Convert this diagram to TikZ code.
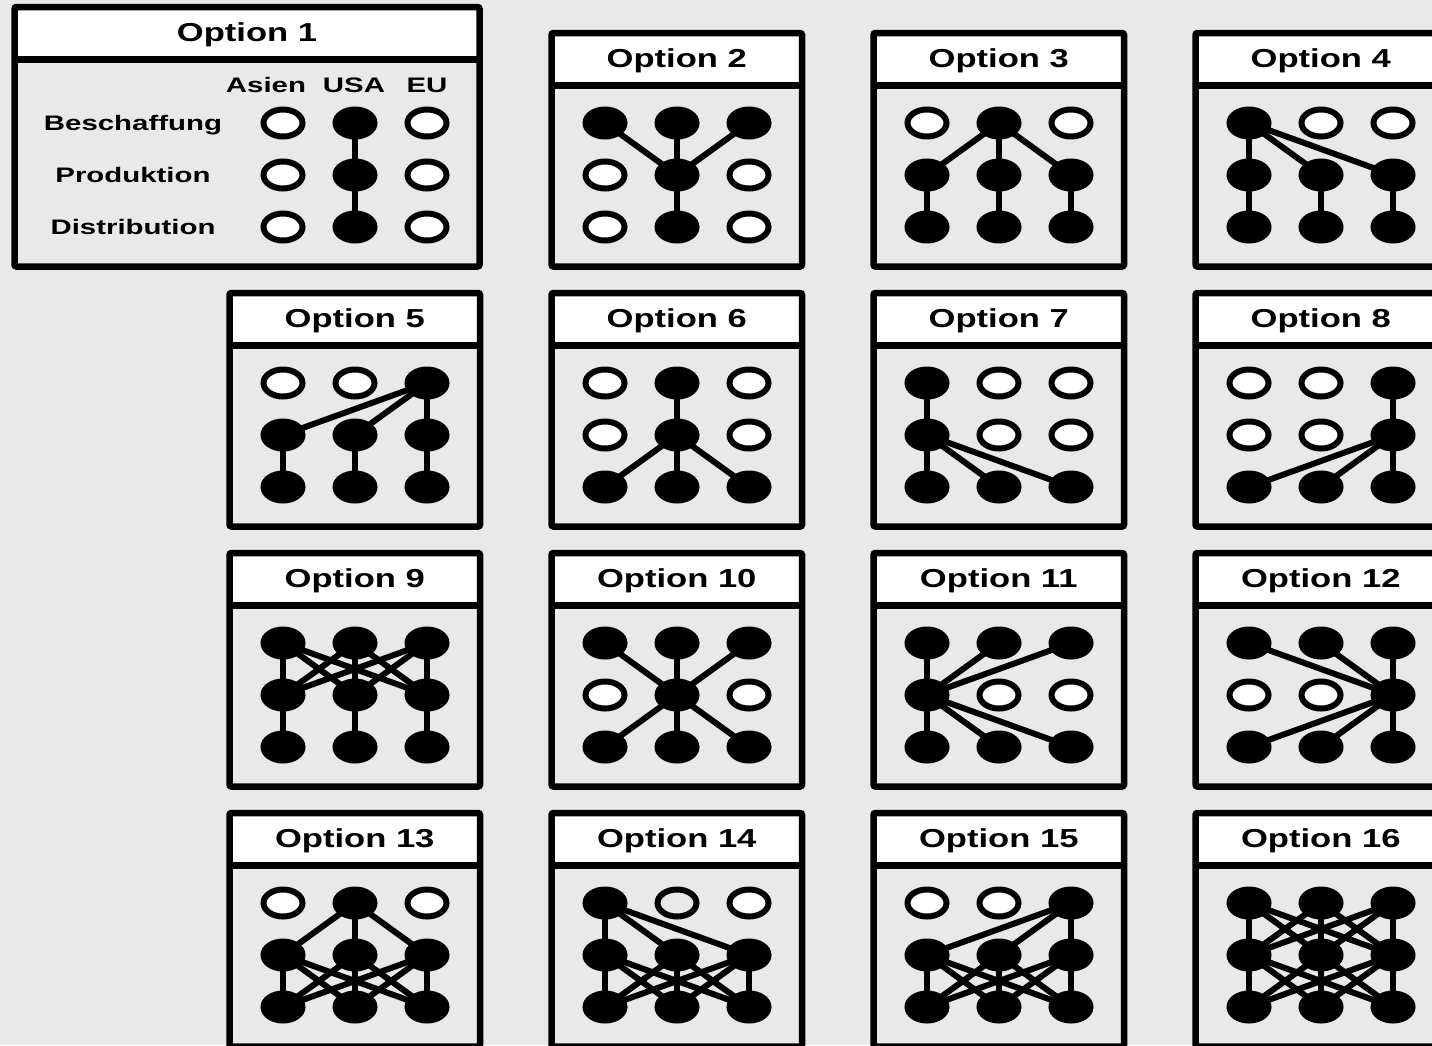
\documentclass[tikz,border=0pt]{standalone}
\usepackage{fontspec}
\setmainfont{Liberation Sans}
\usetikzlibrary{shapes.geometric,backgrounds}

\definecolor{pagegray}{RGB}{233,233,233}
\colorlet{used}{black}
\colorlet{free}{white}
\colorlet{blank}{pagegray}

\newcommand{\wide}[2][1.4]{\scalebox{#1}[1]{#2}}

% frame of one option: title name, left, top, title
\newcommand{\optframe}[4]{%
  \fill[white] (#2,#3) rectangle ++(250.5,52.5);
  \draw[frameline] (#2,#3+52.5) -- ++(250.5,0);
  \draw[frameline, rounded corners=2pt] (#2,#3) rectangle ++(250.5,233.5);
  \node[titletext] (#1) at (#2+125.25,#3+34.5) {\wide[1.33]{#4}};
}

% the nine sites: prefix, left, top, fills of the rows b, p, d
\newcommand{\optdots}[6]{%
  \foreach \f [count=\c] in {#4} \node[dot, fill=\f] (#1b\c) at (#2+72*\c-18.5,#3+90) {};
  \foreach \f [count=\c] in {#5} \node[dot, fill=\f] (#1p\c) at (#2+72*\c-18.5,#3+142) {};
  \foreach \f [count=\c] in {#6} \node[dot, fill=\f] (#1d\c) at (#2+72*\c-18.5,#3+194) {};
}

\newcommand{\optlinks}[2]{%
  \begin{scope}[on background layer]
    \foreach \a/\b in {#2} \draw[link] (#1\a.center) -- (#1\b.center);
  \end{scope}}

% every site of one row to every site of the next
\newcommand{\optmesh}[3]{%
  \begin{scope}[on background layer]
    \foreach \i in {1,2,3} \foreach \j in {1,2,3} \draw[link] (#1#2\i.center) -- (#1#3\j.center);
  \end{scope}}

\begin{document}
\begin{tikzpicture}[x=1pt, y=-1pt,
    dot/.style={ellipse, draw=black, line width=6pt, minimum width=39pt, minimum height=27pt, inner sep=0pt, outer sep=0pt},
    link/.style={line width=6pt},
    frameline/.style={line width=6.5pt},
    titletext/.style={anchor=base, inner sep=0pt, font=\fontsize{26}{30}\selectfont\bfseries},
    labeltext/.style={anchor=base, inner sep=0pt, font=\fontsize{21}{25}\selectfont\bfseries}]

  \begin{scope}[on background layer]
    \fill[pagegray] (0,0) rectangle (1432,1045);
  \end{scope}
  \useasboundingbox (0,0) rectangle (1432,1045);
  \clip (0,0) rectangle (1432,1045);

  % Option 1 with the legend
  \fill[white] (14.5,7) rectangle (479.5,59.5);
  \draw[frameline] (14.5,59.5) -- (479.5,59.5);
  \draw[frameline, rounded corners=2pt] (14.5,7) rectangle (479.5,266.5);
  \node[titletext] (t1) at (247,41.5) {\wide[1.33]{Option 1}};
  \node[labeltext] (asien) at (266,92) {\wide{Asien}};
  \node[labeltext] (usa) at (354,92) {\wide{USA}};
  \node[labeltext] (eu) at (427,92) {\wide{EU}};
  \node[labeltext] (besch) at (133,130.5) {\wide{Beschaffung}};
  \node[labeltext] (prod) at (133,182.5) {\wide{Produktion}};
  \node[labeltext] (dist) at (133,234.5) {\wide{Distribution}};
  \optdots{o1}{229.5}{33}{free,used,free}{free,used,free}{free,used,free}
  \optlinks{o1}{b2/p2,p2/d2}

  % first row
  \optframe{t2}{551.5}{33}{Option 2}
  \optdots{o2}{551.5}{33}{used,used,used}{free,used,free}{free,used,free}
  \optlinks{o2}{b1/p2,b2/p2,b3/p2,p2/d2}

  \optframe{t3}{873.5}{33}{Option 3}
  \optdots{o3}{873.5}{33}{free,used,free}{used,used,used}{used,used,used}
  \optlinks{o3}{b2/p1,b2/p2,b2/p3,p1/d1,p2/d2,p3/d3}

  \optframe{t4}{1195.5}{33}{Option 4}
  \optdots{o4}{1195.5}{33}{used,free,free}{used,used,used}{used,used,used}
  \optlinks{o4}{b1/p1,b1/p2,b1/p3,p1/d1,p2/d2,p3/d3}

  % second row
  \optframe{t5}{229.5}{293}{Option 5}
  \optdots{o5}{229.5}{293}{free,free,used}{used,used,used}{used,used,used}
  \optlinks{o5}{b3/p1,b3/p2,b3/p3,p1/d1,p2/d2,p3/d3}

  \optframe{t6}{551.5}{293}{Option 6}
  \optdots{o6}{551.5}{293}{free,used,free}{free,used,free}{used,used,used}
  \optlinks{o6}{b2/p2,p2/d1,p2/d2,p2/d3}

  \optframe{t7}{873.5}{293}{Option 7}
  \optdots{o7}{873.5}{293}{used,free,free}{used,free,free}{used,used,used}
  \optlinks{o7}{b1/p1,p1/d1,p1/d2,p1/d3}

  \optframe{t8}{1195.5}{293}{Option 8}
  \optdots{o8}{1195.5}{293}{free,free,used}{free,free,used}{used,used,used}
  \optlinks{o8}{b3/p3,p3/d1,p3/d2,p3/d3}

  % third row
  \optframe{t9}{229.5}{553}{Option 9}
  \optdots{o9}{229.5}{553}{used,used,used}{used,used,used}{used,used,used}
  \optmesh{o9}{b}{p}
  \optlinks{o9}{p1/d1,p2/d2,p3/d3}

  \optframe{t10}{551.5}{553}{Option 10}
  \optdots{o10}{551.5}{553}{used,used,used}{free,used,free}{used,used,used}
  \optlinks{o10}{b1/p2,b2/p2,b3/p2,p2/d1,p2/d2,p2/d3}

  \optframe{t11}{873.5}{553}{Option 11}
  \optdots{o11}{873.5}{553}{used,used,used}{used,free,free}{used,used,used}
  \optlinks{o11}{b1/p1,b2/p1,b3/p1,p1/d1,p1/d2,p1/d3}

  \optframe{t12}{1195.5}{553}{Option 12}
  \optdots{o12}{1195.5}{553}{used,used,used}{free,free,used}{used,used,used}
  \optlinks{o12}{b1/p3,b2/p3,b3/p3,p3/d1,p3/d2,p3/d3}

  % fourth row
  \optframe{t13}{229.5}{813}{Option 13}
  \optdots{o13}{229.5}{813}{free,used,free}{used,used,used}{used,used,used}
  \optlinks{o13}{b2/p1,b2/p2,b2/p3}
  \optmesh{o13}{p}{d}

  \optframe{t14}{551.5}{813}{Option 14}
  \optdots{o14}{551.5}{813}{used,blank,free}{used,used,used}{used,used,used}
  \optlinks{o14}{b1/p1,b1/p2,b1/p3}
  \optmesh{o14}{p}{d}

  \optframe{t15}{873.5}{813}{Option 15}
  \optdots{o15}{873.5}{813}{free,free,used}{used,used,used}{used,used,used}
  \optlinks{o15}{b3/p1,b3/p2,b3/p3}
  \optmesh{o15}{p}{d}

  \optframe{t16}{1195.5}{813}{Option 16}
  \optdots{o16}{1195.5}{813}{used,used,used}{used,used,used}{used,used,used}
  \optmesh{o16}{b}{p}
  \optmesh{o16}{p}{d}
\end{tikzpicture}
\end{document}
